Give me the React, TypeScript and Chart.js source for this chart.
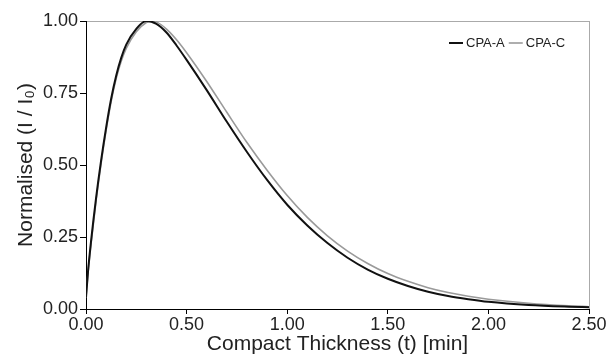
import React, { useEffect, useRef } from "react";
import { Chart, registerables } from "chart.js";

Chart.register(...registerables);

const seriesLabels = ["CPA-A", "CPA-C"];

const tA = [0, 0.01, 0.025, 0.05, 0.075, 0.1, 0.125, 0.15, 0.175, 0.2, 0.25, 0.3, 0.35, 0.4, 0.45, 0.5, 0.6, 0.7, 0.8, 0.9, 1.0, 1.1, 1.2, 1.3, 1.4, 1.5, 1.6, 1.7, 1.8, 1.9, 2.0, 2.2, 2.4, 2.5];
const vA = [0.04, 0.13, 0.235, 0.385, 0.515, 0.63, 0.73, 0.81, 0.872, 0.918, 0.973, 1.0, 0.99, 0.96, 0.915, 0.865, 0.76, 0.65, 0.545, 0.448, 0.362, 0.29, 0.229, 0.178, 0.137, 0.105, 0.08, 0.06, 0.045, 0.034, 0.025, 0.014, 0.008, 0.006];

const tC = [0, 0.01, 0.025, 0.05, 0.075, 0.1, 0.125, 0.15, 0.175, 0.2, 0.25, 0.3, 0.325, 0.35, 0.4, 0.45, 0.5, 0.6, 0.7, 0.8, 0.9, 1.0, 1.1, 1.2, 1.3, 1.4, 1.5, 1.6, 1.7, 1.8, 1.9, 2.0, 2.2, 2.4, 2.5];
const vC = [0.04, 0.125, 0.225, 0.375, 0.505, 0.62, 0.72, 0.8, 0.86, 0.905, 0.963, 0.995, 1.0, 0.997, 0.972, 0.935, 0.89, 0.79, 0.683, 0.578, 0.482, 0.394, 0.318, 0.254, 0.201, 0.158, 0.123, 0.096, 0.074, 0.057, 0.044, 0.034, 0.02, 0.011, 0.008];

const xTicks = [0, 0.5, 1.0, 1.5, 2.0, 2.5];
const yTicks = [0, 0.25, 0.5, 0.75, 1.0];

const FONT = "'Liberation Sans', Arial, Helvetica, sans-serif";

const insideLegend = {
  id: "insideLegend",
  afterDraw(chart: any) {
    const { ctx, chartArea } = chart;
    ctx.save();
    ctx.font = `13px ${FONT}`;
    ctx.textBaseline = "middle";
    ctx.textAlign = "left";
    let x = chartArea.right - 140;
    const y = chartArea.top + 22;
    chart.data.datasets.forEach((ds: any) => {
      ctx.strokeStyle = ds.borderColor;
      ctx.lineWidth = ds.borderWidth;
      ctx.beginPath();
      ctx.moveTo(x, y);
      ctx.lineTo(x + 14, y);
      ctx.stroke();
      x += 17;
      ctx.fillStyle = "#222";
      ctx.fillText(ds.label, x, y);
      x += ctx.measureText(ds.label).width + 4;
    });
    ctx.restore();
  },
};

export default function App() {
  const ref = useRef<HTMLCanvasElement | null>(null);

  useEffect(() => {
    if (!ref.current) return;
    const chart = new Chart(ref.current, {
      type: "scatter",
      data: {
        datasets: [
          {
            label: seriesLabels[0],
            data: tA.map((t, i) => ({ x: t, y: vA[i] })),
            borderColor: "#111111",
            backgroundColor: "#111111",
            borderWidth: 2,
            showLine: true,
            pointRadius: 0,
            cubicInterpolationMode: "monotone",
            order: 0,
          },
          {
            label: seriesLabels[1],
            data: tC.map((t, i) => ({ x: t, y: vC[i] })),
            borderColor: "#9a9a9a",
            backgroundColor: "#9a9a9a",
            borderWidth: 1.6,
            showLine: true,
            pointRadius: 0,
            cubicInterpolationMode: "monotone",
            order: 1,
          },
        ],
      },
      options: {
        responsive: false,
        animation: false,
        layout: { padding: { top: 21, right: 27, left: 0, bottom: 0 } },
        plugins: {
          legend: { display: false },
          tooltip: { enabled: false },
        },
        scales: {
          x: {
            type: "linear",
            min: 0,
            max: 2.5,
            afterBuildTicks: (s: any) => {
              s.ticks = xTicks.map((v) => ({ value: v }));
            },
            afterFit: (s: any) => {
              s.height = 52;
            },
            ticks: {
              callback: (v: any) => Number(v).toFixed(2),
              color: "#222",
              font: { family: FONT, size: 18 },
              padding: 0,
              maxRotation: 0,
            },
            grid: {
              color: (c: any) => (c.tick && c.tick.value === 2.5 ? "#aaaaaa" : "rgba(0,0,0,0)"),
              tickColor: "#000",
              tickLength: 5,
              lineWidth: 1,
            },
            border: { display: true, color: "#000", width: 1 },
            title: {
              display: true,
              text: "Compact Thickness (t) [min]",
              color: "#222",
              font: { family: FONT, size: 21, lineHeight: 1 },
              padding: { top: 0, bottom: 6 },
            },
          },
          y: {
            type: "linear",
            min: 0,
            max: 1,
            afterBuildTicks: (s: any) => {
              s.ticks = yTicks.map((v) => ({ value: v }));
            },
            afterFit: (s: any) => {
              s.width = 86;
            },
            ticks: {
              callback: (v: any) => Number(v).toFixed(2),
              color: "#222",
              font: { family: FONT, size: 18 },
              padding: 2,
            },
            grid: {
              color: (c: any) => (c.tick && c.tick.value === 1 ? "#aaaaaa" : "rgba(0,0,0,0)"),
              tickColor: "#000",
              tickLength: 6,
              lineWidth: 1,
            },
            border: { display: true, color: "#000", width: 1 },
            title: {
              display: true,
              text: "Normalised (I / I₀)",
              color: "#222",
              font: { family: FONT, size: 21, lineHeight: 1 },
              padding: { top: 16, bottom: 0 },
            },
          },
        },
      },
      plugins: [insideLegend],
    });
    return () => chart.destroy();
  }, []);

  return (
    <div style={{ position: "absolute", left: 0, top: 0, width: 616, height: 361, background: "#fff" }}>
      <canvas ref={ref} width={616} height={361} />
    </div>
  );
}
